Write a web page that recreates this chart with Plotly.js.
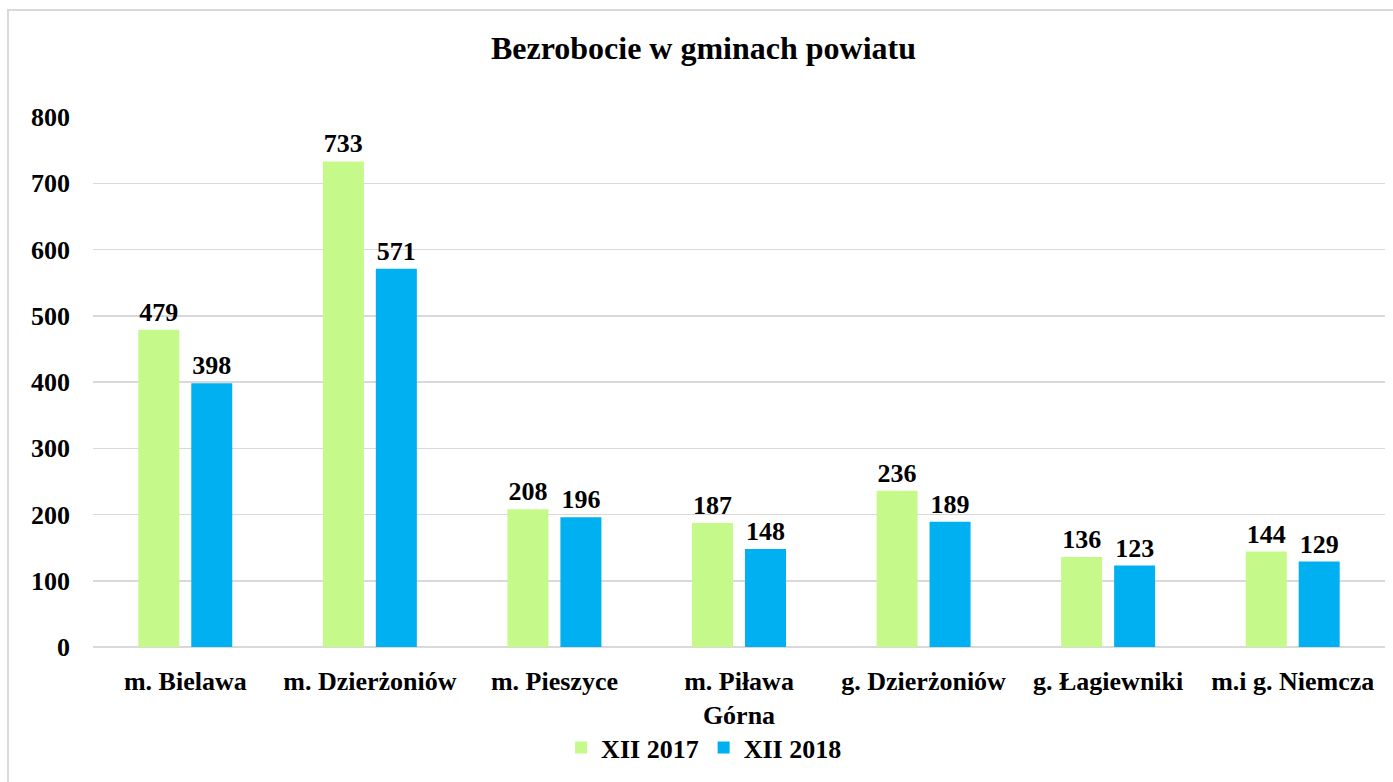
<!DOCTYPE html>
<html>
<head>
<meta charset="utf-8">
<script src="https://cdn.plot.ly/plotly-3.0.1.min.js"></script>
<style>
  html, body { margin: 0; padding: 0; background: #fff; overflow: hidden; }
  #wrap { position: relative; width: 1393px; height: 782px; }
  #chart { width: 1393px; height: 782px; }
  #frame { position: absolute; left: 7px; top: 9px; width: 1400px; height: 800px;
           border: 2px solid #d9d9d9; pointer-events: none; box-sizing: border-box; }
</style>
</head>
<body>
<div id="wrap">
  <div id="chart"></div>
  <div id="frame"></div>
</div>
<script>
const categories = ["m. Bielawa", "m. Dzierżoniów", "m. Pieszyce", "m. Piława<br>Górna",
                    "g. Dzierżoniów", "g. Łagiewniki", "m.i g. Niemcza"];
const series2017 = [479, 733, 208, 187, 236, 136, 144];
const series2018 = [398, 571, 196, 148, 189, 123, 129];
const seriesNames = ["XII 2017", "XII 2018"];
const yTicks = [0, 100, 200, 300, 400, 500, 600, 700, 800];

const FONT = "'Liberation Serif', 'Times New Roman', Times, serif";
const bold = (size) => ({ family: FONT, size: size, color: "#000", weight: 700 });

const traces = [
  { type: "bar", name: seriesNames[0], x: categories, y: series2017,
    marker: { color: "#c5f98a" }, text: series2017.map(String),
    textposition: "outside", textfont: bold(26), constraintext: "none", cliponaxis: false,
    hoverinfo: "x+y" },
  { type: "bar", name: seriesNames[1], x: categories, y: series2018,
    marker: { color: "#00b0f0" }, text: series2018.map(String),
    textposition: "outside", textfont: bold(26), constraintext: "none", cliponaxis: false,
    hoverinfo: "x+y" }
];

const layout = {
  width: 1393, height: 782,
  margin: { l: 93, r: 8, t: 117, b: 135, autoexpand: false },
  paper_bgcolor: "#fff", plot_bgcolor: "#fff",
  font: { family: FONT, weight: 700 },
  title: { text: "Bezrobocie w gminach powiatu", font: bold(32),
           x: 0.505, xanchor: "center", y: 1 - 48 / 782, yanchor: "middle", yref: "container" },
  barmode: "group", bargap: 0.426, bargroupgap: 0.226,
  xaxis: { type: "category", tickfont: bold(26), showgrid: false, showline: false,
           ticks: "", ticklabelstandoff: 16, tickangle: 0, automargin: false, fixedrange: true },
  yaxis: { range: [0, 800], tickvals: yTicks, ticktext: yTicks.map(String), tickfont: bold(26),
           showgrid: true, gridcolor: "#d9d9d9", gridwidth: 1.5,
           zeroline: true, zerolinecolor: "#d9d9d9", zerolinewidth: 1.5, automargin: false,
           showline: false, ticks: "", ticklabelstandoff: 22, fixedrange: true },
  showlegend: true,
  legend: { orientation: "h", x: 0.473, xanchor: "center", xref: "paper",
            y: -0.19, yanchor: "middle", font: bold(26), itemwidth: 30,
            traceorder: "normal" }
};

Plotly.newPlot("chart", traces, layout, { displayModeBar: false, staticPlot: true });
</script>
</body>
</html>
